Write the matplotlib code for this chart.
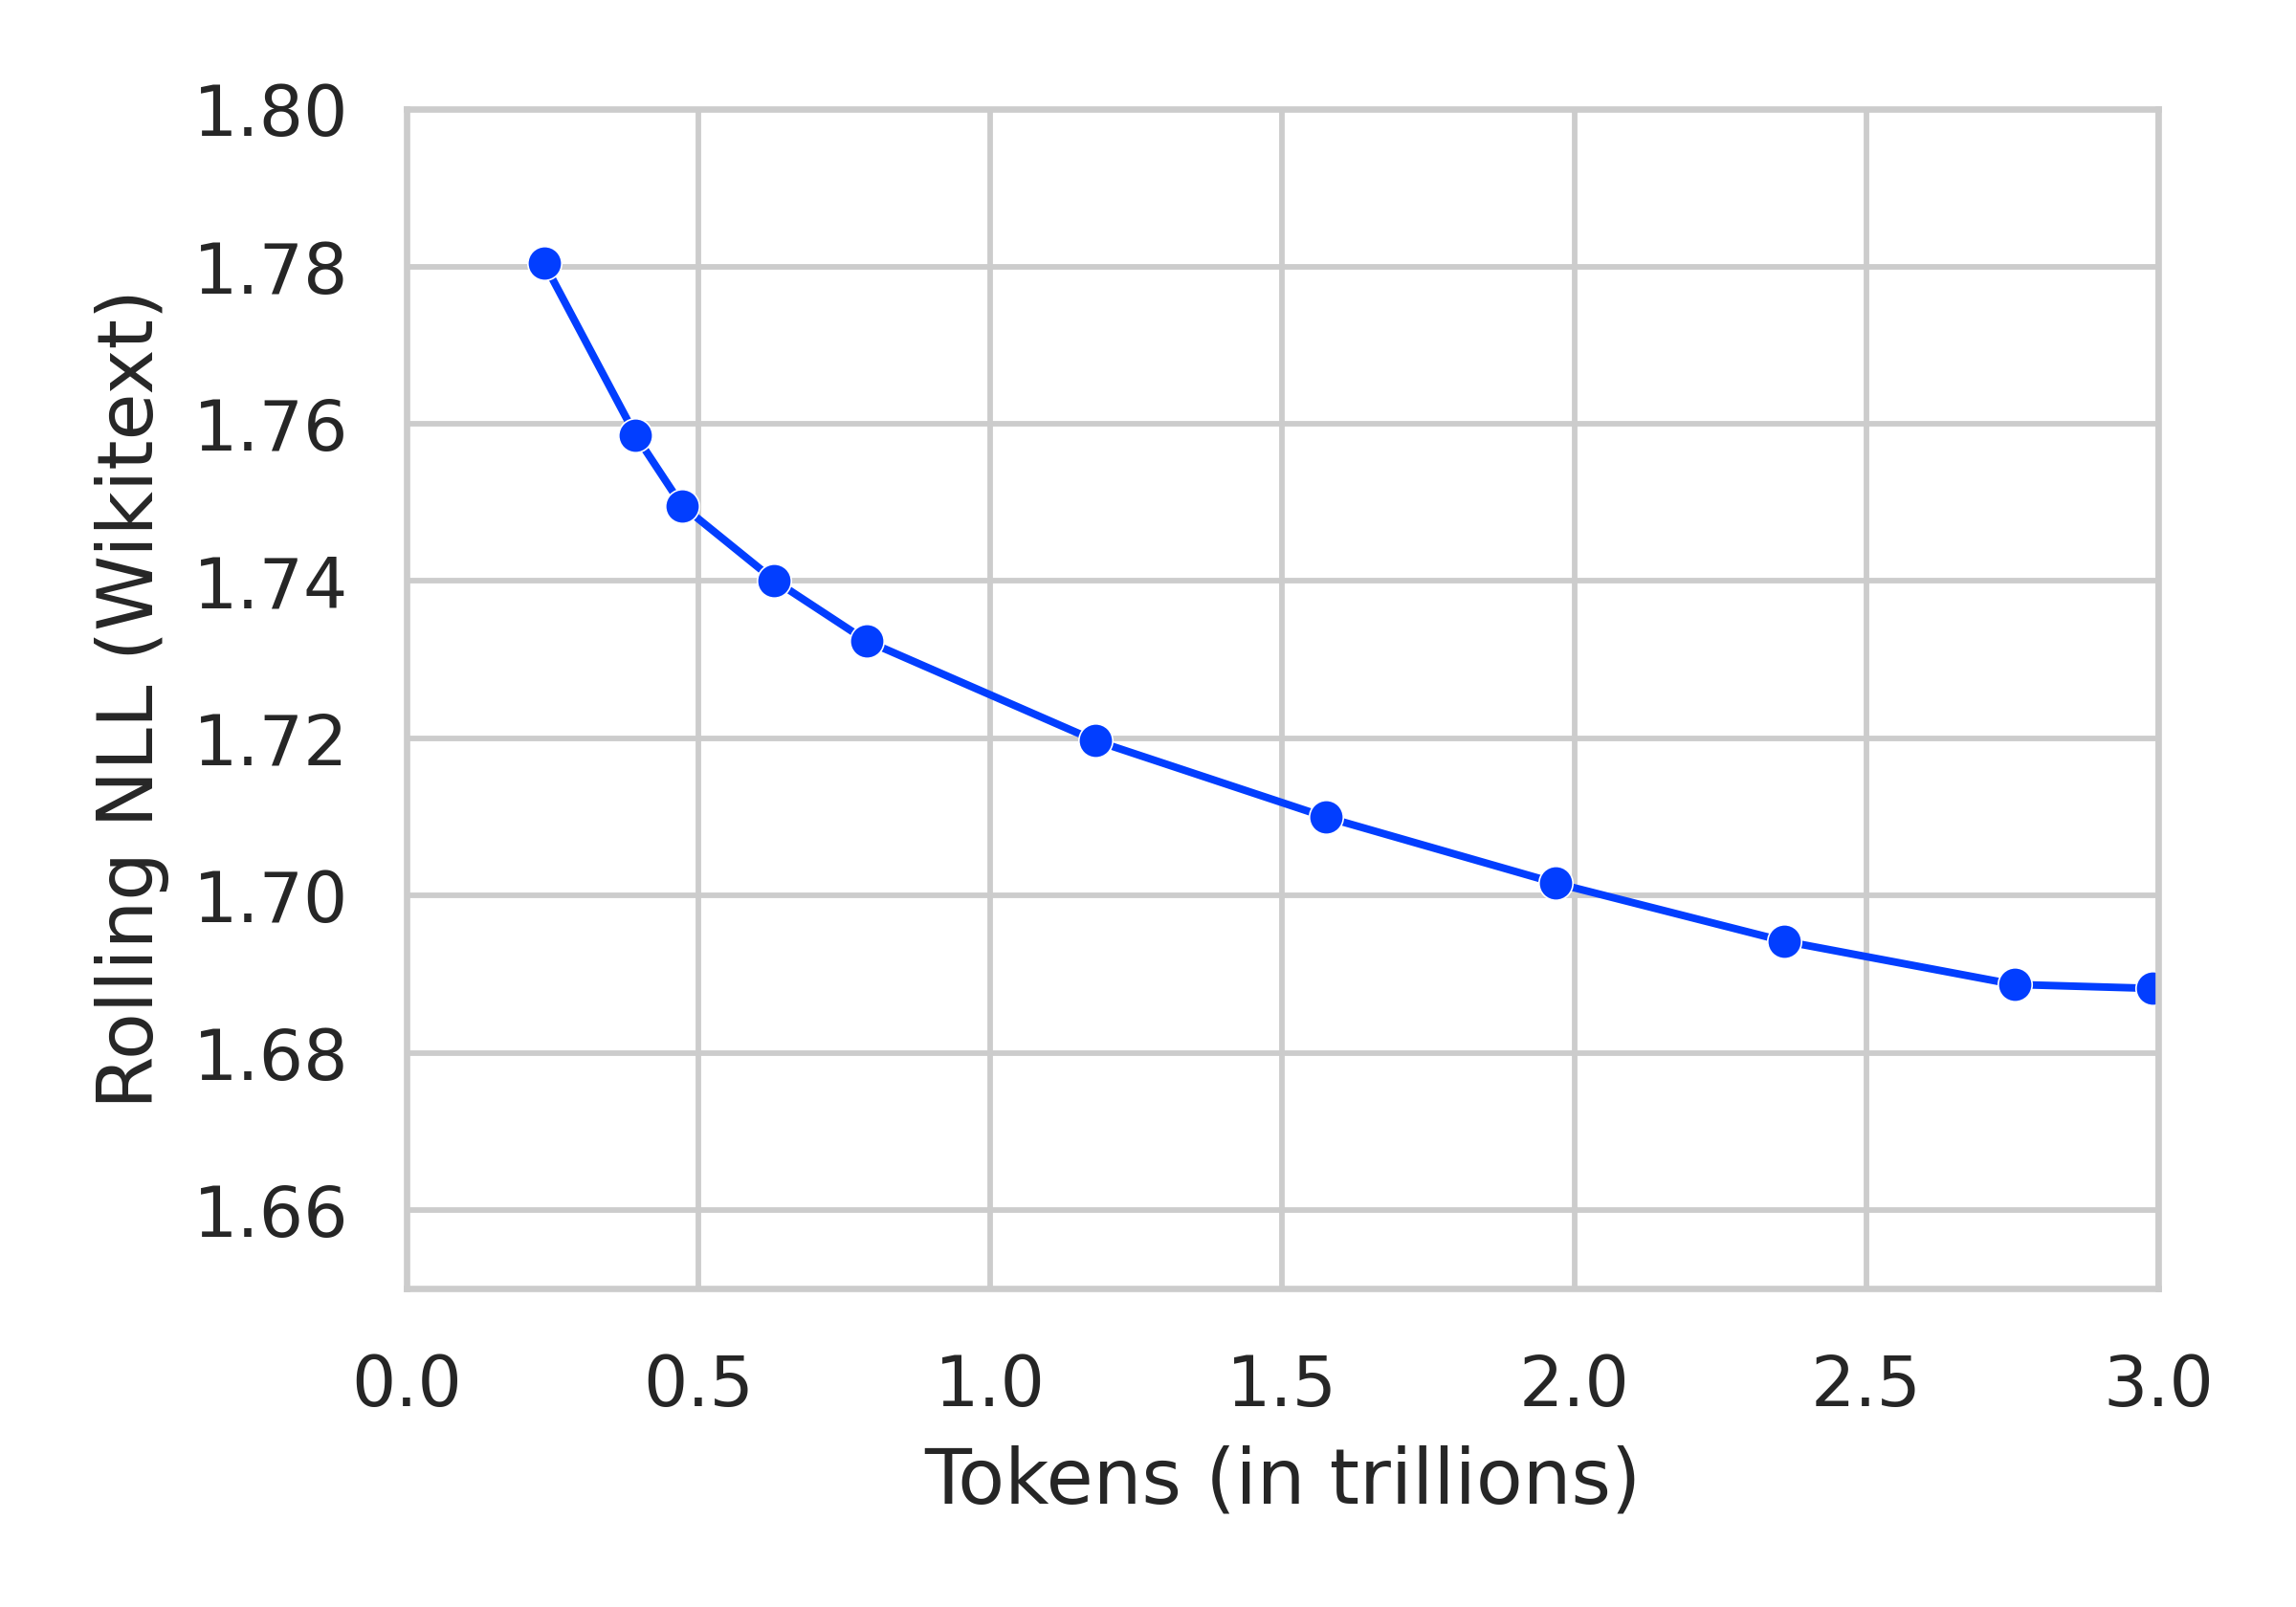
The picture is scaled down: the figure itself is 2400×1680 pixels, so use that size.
"""
Rolling NLL on Wikitext as training tokens accumulate.
"""
import matplotlib
matplotlib.use("Agg")
import matplotlib.pyplot as plt
import seaborn as sns

tokens_trillions = [0.236, 0.392, 0.472, 0.630, 0.788, 1.180, 1.574, 1.968, 2.360, 2.754, 2.990]
rolling_nll = [1.7804, 1.7586, 1.7496, 1.7401, 1.7324, 1.7197, 1.7100, 1.7016, 1.6942, 1.6887, 1.6882]
x_ticks = [0.0, 0.5, 1.0, 1.5, 2.0, 2.5, 3.0]
y_ticks = [1.66, 1.68, 1.70, 1.72, 1.74, 1.76, 1.78, 1.80]


def main() -> None:
    sns.set_theme(style="whitegrid")
    plt.rcParams["font.family"] = ["DejaVu Sans"]

    fig = plt.figure(figsize=(8, 5.6), dpi=300)
    ax = fig.add_axes([0.177, 0.198, 0.763, 0.734])
    ax.plot(tokens_trillions, rolling_nll, color="#023eff", linewidth=1.9,
            marker="o", markersize=8.5, markeredgecolor="white", markeredgewidth=0.4)

    ax.set_xlim(0.0, 3.0)
    ax.set_ylim(1.65, 1.80)
    ax.set_xticks(x_ticks)
    ax.set_yticks(y_ticks)
    ax.set_xticklabels([f"{v:.1f}" for v in x_ticks])
    ax.set_yticklabels([f"{v:.2f}" for v in y_ticks])
    ax.tick_params(axis="x", labelsize=17.5, colors="#262626", pad=10)
    ax.tick_params(axis="y", labelsize=17.5, colors="#262626", pad=8.5)
    ax.set_xlabel("Tokens (in trillions)", fontsize=19.2, color="#262626", labelpad=6)
    ax.set_ylabel("Rolling NLL (Wikitext)", fontsize=19.2, color="#262626", labelpad=6)
    ax.grid(True, color="#cccccc", linewidth=1.4)
    for s in ax.spines.values():
        s.set_color("#cccccc")
        s.set_linewidth(1.6)

    fig.savefig("out.png", dpi=300)
    plt.close(fig)


if __name__ == "__main__":
    main()
